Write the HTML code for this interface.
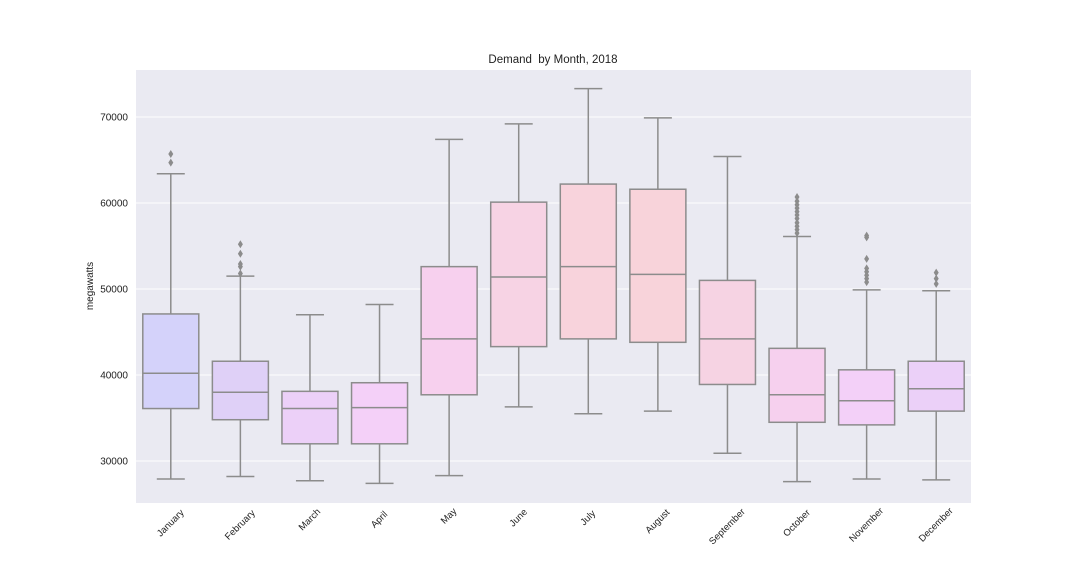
<!DOCTYPE html>
<html><head><meta charset="utf-8"><style>body{margin:0;background:#fff}svg{display:block;font-family:"Liberation Sans","DejaVu Sans",sans-serif}</style></head>
<body>
<svg id="chart" width="1080" height="576" viewBox="0 0 1080 576">
<rect x="136" y="70" width="835" height="433" fill="#eaeaf2"/>
<g id="grid"></g><g id="boxes"></g><g id="ticks"></g>
<text x="553" y="63" text-anchor="middle" font-size="11.5" fill="#222" style="white-space:pre">Demand  by Month, 2018</text>
<text transform="translate(93,286) rotate(-90)" text-anchor="middle" font-size="10" fill="#222">megawatts</text>
</svg>
<script>
const months=["January","February","March","April","May","June","July","August","September","October","November","December"];
const whisLo=[27900,28200,27700,27400,28300,36300,35500,35800,30900,27600,27900,27800];
const q1=[36100,34800,32000,32000,37700,43300,44200,43800,38900,34500,34200,35800];
const med=[40200,38000,36100,36200,44200,51400,52600,51700,44200,37700,37000,38400];
const q3=[47100,41600,38100,39100,52600,60100,62200,61600,51000,43100,40600,41600];
const whisHi=[63400,51500,47000,48200,67400,69200,73300,69900,65400,56100,49900,49800];
const fliers=[[64700,65700],[51800,52600,52900,54100,55200],[],[],[],[],[],[],[],[56500,56900,57300,57700,58200,58600,59000,59400,59800,60200,60700],[50800,51200,51600,52000,52400,53500,56000,56200],[50600,51200,51900]];
const colors=["#d4d2fa","#dfd0f7","#ecd0f8","#f4d0f8","#f7d0ee","#f7d3e4","#f8d3dc","#f8d3da","#f6d3e3","#f6d0ee","#f3d0f8","#ebd0f8"];
const yTicks=[30000,40000,50000,60000,70000];
const NS="http://www.w3.org/2000/svg";
const y=v=>461-(v-30000)*0.0086;
const bw=835/12, x=i=>136+bw*(i+0.5);
function mk(tag,attrs,parent){const e=document.createElementNS(NS,tag);for(const k in attrs)e.setAttribute(k,attrs[k]);parent.appendChild(e);return e;}
const grid=document.getElementById('grid'),boxes=document.getElementById('boxes'),ticks=document.getElementById('ticks');
yTicks.forEach(t=>{
 const l=mk('line',{x1:136,x2:971,y1:y(t),y2:y(t),stroke:'#fff','stroke-width':1},grid);
 
 
 const tx=mk('text',{x:128,y:y(t)+3.5,'text-anchor':'end','font-size':10,fill:'#222'},ticks);
 tx.textContent=t;
 
 
});
const G='#8c8c8c';
months.forEach((m,i)=>{
 const cx=x(i),hw=28;
 const g=mk('g',{},boxes);
 
 
 mk('line',{x1:cx,x2:cx,y1:y(q1[i]),y2:y(whisLo[i]),stroke:G,'stroke-width':1.5},g);
 mk('line',{x1:cx,x2:cx,y1:y(q3[i]),y2:y(whisHi[i]),stroke:G,'stroke-width':1.5},g);
 mk('line',{x1:cx-14,x2:cx+14,y1:y(whisLo[i]),y2:y(whisLo[i]),stroke:G,'stroke-width':1.5},g);
 mk('line',{x1:cx-14,x2:cx+14,y1:y(whisHi[i]),y2:y(whisHi[i]),stroke:G,'stroke-width':1.5},g);
 mk('rect',{x:cx-hw,y:y(q3[i]),width:2*hw,height:y(q1[i])-y(q3[i]),fill:colors[i],stroke:G,'stroke-width':1.5},g);
 mk('line',{x1:cx-hw,x2:cx+hw,y1:y(med[i]),y2:y(med[i]),stroke:G,'stroke-width':1.5},g);
 fliers[i].forEach(v=>{const yy=y(v);
  const p=mk('polygon',{points:`${cx},${yy-4} ${cx+2.5},${yy} ${cx},${yy+4} ${cx-2.5},${yy}`,fill:G},g);
  
  
 });
 const w=m.length*5.0, h=w*0.707+6, cy=508+h/2;
 const t=mk('text',{x:cx,y:cy,'text-anchor':'middle','dominant-baseline':'central','font-size':9.5,fill:'#222',transform:`rotate(-45 ${cx} ${cy})`},ticks);
 t.textContent=m;
 
 
});
</script>
</body></html>
